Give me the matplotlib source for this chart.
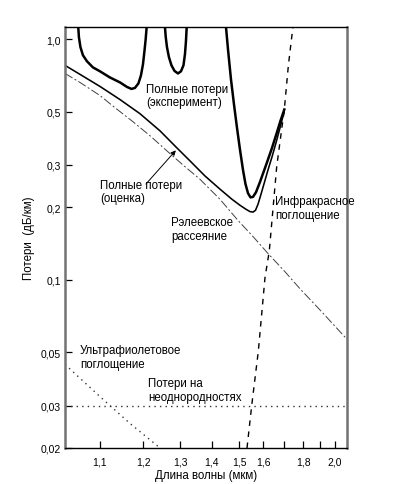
#!/usr/bin/env python3
import numpy as np
import matplotlib
matplotlib.use("Agg")
import matplotlib.pyplot as plt
import matplotlib as mpl

mpl.rcParams.update({
    "font.family": ["Liberation Sans", "DejaVu Sans"], "font.size": 8.3,
    "xtick.labelsize": 7.5, "ytick.labelsize": 7.5,
})

# ---------- data (wavelength in um, loss in dB/km) ----------
# measured total loss, three branches between the OH peaks (cut by the top of the axes)
EXP1_WL = [1.0561, 1.0574, 1.0604, 1.0653, 1.0733, 1.0854, 1.1000, 1.1214, 1.1438, 1.1599,
           1.1706, 1.1790, 1.1875, 1.1937, 1.1987, 1.2024, 1.2055, 1.208]
EXP1_DB = [1.123, 1.019, 0.926, 0.857, 0.809, 0.763, 0.735, 0.693, 0.661, 0.633,
           0.621, 0.627, 0.655, 0.707, 0.786, 0.891, 1.000, 1.123]
EXP2_WL = [1.2563, 1.2585, 1.2619, 1.2674, 1.2745, 1.2830, 1.2931, 1.3019, 1.3093, 1.3138,
           1.3168, 1.319]
EXP2_DB = [1.123, 1.019, 0.926, 0.841, 0.778, 0.738, 0.720, 0.735, 0.778, 0.866,
           0.981, 1.123]
EXP3_WL = [1.4498, 1.4571, 1.4683, 1.4797, 1.4912, 1.5029, 1.5148, 1.5248, 1.5350, 1.5453,
           1.5558, 1.5685, 1.5859, 1.6157, 1.6402, 1.6625, 1.6810, 1.700]
EXP3_DB = [1.123, 0.908, 0.680, 0.535, 0.428, 0.347, 0.286, 0.250, 0.229, 0.220,
           0.221, 0.231, 0.255, 0.305, 0.353, 0.407, 0.458, 0.510]

# estimated total loss
EST_WL = [1.031, 1.0594, 1.100, 1.1438, 1.1912, 1.2427, 1.2902, 1.3290, 1.3768, 1.4282,
          1.4721, 1.5029, 1.5269, 1.5433, 1.5558, 1.5664, 1.5772, 1.5903, 1.6058, 1.6217,
          1.6402, 1.6592, 1.6786, 1.698]
EST_DB = [0.778, 0.714, 0.636, 0.561, 0.490, 0.416, 0.353, 0.312, 0.270, 0.238,
          0.216, 0.204, 0.1963, 0.1920, 0.1911, 0.1944, 0.206, 0.2268, 0.2545, 0.286,
          0.324, 0.371, 0.428, 0.495]

# Rayleigh scattering
RAY_WL = [1.031, 1.0594, 1.100, 1.1325, 1.174, 1.2164, 1.262, 1.3078, 1.360, 1.4282,
          1.495, 1.5558, 1.622, 1.7034, 1.783, 1.9007, 2.087]
RAY_DB = [0.720, 0.661, 0.583, 0.519, 0.454, 0.397, 0.343, 0.300, 0.262, 0.216,
          0.1765, 0.1513, 0.1285, 0.108, 0.0917, 0.0749, 0.0566]

# infrared absorption
IR_WL = [1.531, 1.5503, 1.5785, 1.608, 1.6277, 1.6625, 1.700, 1.7203, 1.741, 1.745]
IR_DB = [0.020, 0.030, 0.0504, 0.102, 0.132, 0.295, 0.510, 0.773, 1.067, 1.123]

# ultraviolet absorption
UV_WL = [1.031, 1.100, 1.167, 1.243]
UV_DB = [0.0445, 0.0327, 0.0253, 0.020]

# waveguide imperfection losses
IMP_WL = [1.031, 2.087]
IMP_DB = [0.030, 0.030]

XTICKS = [1.1, 1.2, 1.3, 1.4, 1.5, 1.6, 1.7, 1.8, 1.9, 2.0]
XTICKLABELS = ["1,1", "1,2", "1,3", "1,4", "1,5", "1,6", "", "1,8", "", "2,0"]
YTICKS = [1.0, 0.5, 0.3, 0.2, 0.1, 0.05, 0.03, 0.02]
YTICKLABELS = ["1,0", "0,5", "0,3", "0,2", "0,1", "0,05", "0,03", "0,02"]

fig = plt.figure(figsize=(3.94, 4.85), dpi=100)
ax = fig.add_axes([65 / 394, 1 - 449 / 485, 282 / 394, 421 / 485])

# x axis is linear in 1/wavelength
ax.set_xscale("function", functions=(lambda x: -1.0 / x, lambda y: -1.0 / y))
ax.set_yscale("log")

for wl, db in ((EXP1_WL, EXP1_DB), (EXP2_WL, EXP2_DB), (EXP3_WL, EXP3_DB)):
    ax.plot(wl, db, color="black", lw=1.8, solid_joinstyle="round")
ax.plot(EST_WL, EST_DB, color="black", lw=1.15, solid_joinstyle="round")
ax.plot(RAY_WL, RAY_DB, color="0.25", lw=0.7, dashes=(9, 2.5, 2, 2.5))
ax.plot(IR_WL, IR_DB, color="black", lw=1.0, dashes=(4, 4))
ax.plot(UV_WL, UV_DB, color="0.2", lw=1.0, linestyle=(0, (1, 3)))
ax.plot(IMP_WL, IMP_DB, color="0.2", lw=1.0, linestyle=(0, (1, 3)))

ax.set_xlim(1.031, 2.087)
ax.set_ylim(0.02, 1.123)
ax.set_xticks(XTICKS)
ax.set_xticklabels(XTICKLABELS)
ax.set_yticks(YTICKS)
ax.set_yticklabels(YTICKLABELS)
ax.minorticks_off()
ax.tick_params(direction="in", length=5, width=0.9, pad=3)
ax.tick_params(axis="x", pad=6)

for s in ("left", "right"):
    ax.spines[s].set_color("0.45"); ax.spines[s].set_linewidth(1.8)
for s in ("top", "bottom"):
    ax.spines[s].set_color("black"); ax.spines[s].set_linewidth(1.0)

ax.set_ylabel("Потери  (дБ/км)", labelpad=4)
ax.set_xlabel("Длина волны (мкм)", labelpad=2)

kw = dict(transform=ax.transAxes, ha="left", va="center", linespacing=1.15)
ax.text(0.287, 0.837, "Полные потери\n(эксперимент)", **kw)
ax.text(0.124, 0.610, "Полные потери\n(оценка)", **kw)
ax.text(0.376, 0.520, "Рэлеевское\nрассеяние", **kw)
ax.text(0.745, 0.570, "Инфракрасное\nпоглощение", **kw)
ax.text(0.053, 0.216, "Ультрафиолетовое\nпоглощение", **kw)
ax.text(0.294, 0.138, "Потери на\nнеоднородностях", **kw)

ax.annotate("", xy=(1.287, 0.345), xycoords="data",
            xytext=(0.287, 0.627), textcoords="axes fraction",
            arrowprops=dict(arrowstyle="-|>", lw=0.7, color="black",
                            mutation_scale=7, shrinkA=0, shrinkB=0))

fig.savefig("out.png", dpi=100)
